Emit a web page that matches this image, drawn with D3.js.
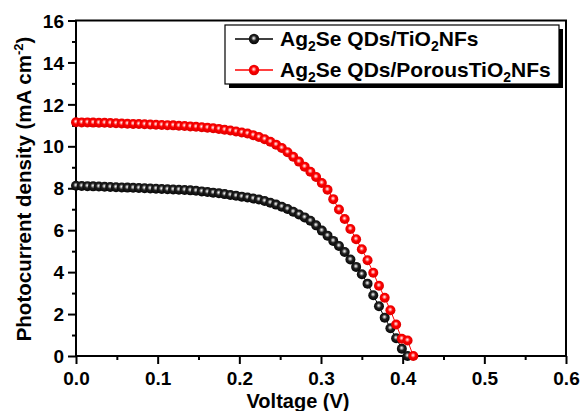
<!DOCTYPE html>
<html><head><meta charset="utf-8">
<script src="https://cdn.jsdelivr.net/npm/d3@7"></script>
<style>body{margin:0;background:#fff;} svg{display:block;font-family:"Liberation Sans",Arial,sans-serif;font-weight:bold;}</style>
</head><body>
<svg id="c" width="582" height="411"></svg>
<script>
// Series 1: Ag2Se QDs/TiO2NFs (black)
const voltBlack = [0.000,0.007,0.014,0.021,0.028,0.035,0.042,0.049,0.056,0.063,0.070,0.077,0.084,0.091,0.098,0.105,0.112,0.119,0.126,0.133,0.140,0.147,0.154,0.161,0.168,0.175,0.182,0.189,0.196,0.203,0.210,0.217,0.224,0.231,0.238,0.245,0.252,0.259,0.266,0.273,0.280,0.287,0.294,0.301,0.308,0.315,0.322,0.329,0.336,0.343,0.350,0.357,0.364,0.371,0.378,0.385,0.392,0.399,0.406];
const currBlack = [8.12,8.11,8.10,8.09,8.08,8.07,8.06,8.05,8.04,8.03,8.02,8.01,8.00,7.99,7.98,7.96,7.95,7.94,7.93,7.92,7.90,7.88,7.85,7.82,7.79,7.76,7.72,7.68,7.64,7.60,7.56,7.51,7.46,7.39,7.31,7.22,7.12,7.01,6.88,6.75,6.61,6.45,6.23,5.98,5.74,5.49,5.25,4.96,4.60,4.25,3.90,3.45,2.90,2.37,1.83,1.32,0.85,0.35,0.00];
// Series 2: Ag2Se QDs/PorousTiO2NFs (red)
const voltRed = [0.000,0.007,0.014,0.021,0.028,0.035,0.042,0.049,0.056,0.063,0.070,0.077,0.084,0.091,0.098,0.105,0.112,0.119,0.126,0.133,0.140,0.147,0.154,0.161,0.168,0.175,0.182,0.189,0.196,0.203,0.210,0.217,0.224,0.231,0.238,0.245,0.252,0.259,0.266,0.273,0.280,0.287,0.294,0.301,0.308,0.315,0.322,0.329,0.336,0.343,0.350,0.357,0.364,0.371,0.378,0.385,0.392,0.399,0.406,0.413];
const currRed = [11.15,11.14,11.14,11.13,11.12,11.12,11.11,11.10,11.09,11.08,11.07,11.06,11.05,11.04,11.03,11.02,11.01,11.00,10.98,10.97,10.95,10.93,10.91,10.89,10.86,10.83,10.79,10.75,10.71,10.66,10.61,10.53,10.44,10.34,10.22,10.08,9.92,9.72,9.50,9.27,9.03,8.79,8.54,8.25,7.93,7.48,6.99,6.53,6.06,5.57,5.09,4.57,3.97,3.35,2.78,2.18,1.50,0.82,0.74,0.00];

const xTicks = [0.0,0.1,0.2,0.3,0.4,0.5,0.6];
const xMinorTicks = [0.05,0.15,0.25,0.35,0.45,0.55];
const yTicks = [0,2,4,6,8,10,12,14,16];
const yMinorTicks = [1,3,5,7,9,11,13,15];
const seriesNames = ["Ag|2|Se QDs/TiO|2|NFs","Ag|2|Se QDs/PorousTiO|2|NFs"];
const seriesColors = ["black","red"];

const svg = d3.select("#c");
const L=76,R=566,T=20.5,B=356;
const x = d3.scaleLinear().domain([0,0.6]).range([L,R]);
const y = d3.scaleLinear().domain([0,16]).range([B,T]);

// gradients
const defs = svg.append("defs");
const gradStops = {
  black:[["0%","#ffffff"],["16%","#b0b0b0"],["42%","#202020"],["100%","#000000"]],
  red:[["0%","#ffffff"],["16%","#ffa0a0"],["42%","#ff0000"],["100%","#d40000"]]
};
Object.keys(gradStops).forEach(k=>{
  const g = defs.append("radialGradient").attr("id","g_"+k).attr("cx","0.5").attr("cy","0.45").attr("r","0.6").attr("fx","0.47").attr("fy","0.42");
  gradStops[k].forEach(s=>g.append("stop").attr("offset",s[0]).attr("stop-color",s[1]));
});

// axes
const xAxis = d3.axisBottom(x).tickValues(xTicks).tickSize(8).tickFormat(d3.format(".1f"));
const gx = svg.append("g").attr("transform",`translate(0,${B})`).call(xAxis);
const xMinor = d3.axisBottom(x).tickValues(xMinorTicks).tickSize(4).tickFormat("");
const gxm = svg.append("g").attr("transform",`translate(0,${B})`).call(xMinor);
const yAxis = d3.axisLeft(y).tickValues(yTicks).tickSize(8).tickFormat(d3.format("d"));
const gy = svg.append("g").attr("transform",`translate(${L},0)`).call(yAxis);
const yMinor = d3.axisLeft(y).tickValues(yMinorTicks).tickSize(4).tickFormat("");
const gym = svg.append("g").attr("transform",`translate(${L},0)`).call(yMinor);
[gx,gxm,gy,gym].forEach(g=>{
  g.select(".domain").remove();
  g.selectAll("line").attr("stroke","#000").attr("stroke-width",2);
});
gx.selectAll("text").attr("font-size",19).attr("font-family","Liberation Sans, Arial").attr("font-weight","bold").attr("fill","#000").attr("dy",null).attr("y",29);
gy.selectAll("text").attr("font-size",19).attr("font-family","Liberation Sans, Arial").attr("font-weight","bold").attr("fill","#000").attr("x",-12).attr("dy","0.35em");

// frame
svg.append("rect").attr("x",L).attr("y",T).attr("width",R-L).attr("height",B-T).attr("fill","none").attr("stroke","#000").attr("stroke-width",2);

// series
const line = d3.line().x(d=>x(d[0])).y(d=>y(d[1]));
const datasets = [d3.zip(voltBlack,currBlack), d3.zip(voltRed,currRed)];
datasets.forEach((data,i)=>{
  const c = seriesColors[i];
  svg.append("path").datum(data).attr("d",line).attr("fill","none").attr("stroke",c).attr("stroke-width",1);
  svg.append("g").selectAll("circle").data(data).join("circle")
    .attr("cx",d=>x(d[0])).attr("cy",d=>y(d[1])).attr("r",5)
    .attr("fill",`url(#g_${c})`);
});

// legend
const lg = svg.append("g");
lg.append("rect").attr("x",229).attr("y",29).attr("width",334).attr("height",59).attr("fill","#000");
lg.append("rect").attr("x",225).attr("y",25).attr("width",334).attr("height",59).attr("fill","#fff").attr("stroke","#000").attr("stroke-width",1.2);
const rowsY = [39,70];
seriesNames.forEach((nm,i)=>{
  const c = seriesColors[i];
  lg.append("line").attr("x1",235).attr("x2",273).attr("y1",rowsY[i]).attr("y2",rowsY[i]).attr("stroke",c).attr("stroke-width",1.5);
  lg.append("circle").attr("cx",254).attr("cy",rowsY[i]).attr("r",5.2).attr("fill",`url(#g_${c})`);
  const t = lg.append("text").attr("x",280).attr("y",rowsY[i]+7).attr("font-size",21).attr("fill","#000");
  nm.split("|").forEach((p,j)=>{
    if(j%2===1){
      t.append("tspan").attr("font-size",14).attr("dy",5).text(p);
    } else {
      const ts = t.append("tspan").text(p);
      if(j>0) ts.attr("dy",-5);
    }
  });
});

// axis titles
svg.append("text").attr("x",298).attr("y",408).attr("text-anchor","middle").attr("font-size",20).text("Voltage (V)");
const yt = svg.append("text").attr("transform","translate(31,189) rotate(-90)").attr("text-anchor","middle").attr("font-size",20.5);
yt.append("tspan").text("Photocurrent density (mA cm");
yt.append("tspan").attr("font-size",13).attr("dy",-8).text("-2");
yt.append("tspan").attr("dy",8).text(")");
</script>
</body></html>
